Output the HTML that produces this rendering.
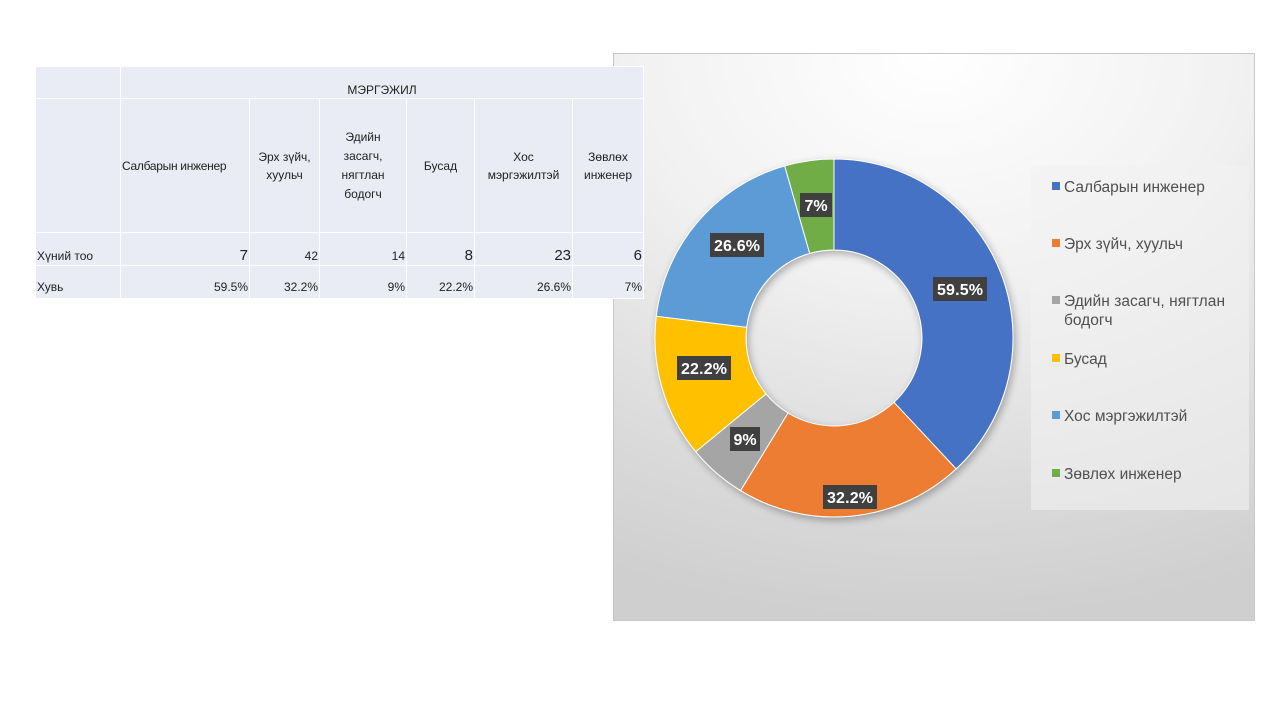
<!DOCTYPE html>
<html><head><meta charset="utf-8"><style>
body{margin:0;width:1280px;height:720px;background:#fff;position:relative;overflow:hidden;font-family:"Liberation Sans","DejaVu Sans",sans-serif;}
#chart{position:absolute;left:613px;top:53px;width:642px;height:568px;border:1px solid #c8c8c8;box-sizing:border-box;
background:radial-gradient(ellipse 120% 100% at 50% 0%,#ffffff 0%,#f1f1f1 40%,#d9d9d9 80%,#cfcfcf 100%);}
table{position:absolute;left:35px;top:66px;width:608px;table-layout:fixed;border-collapse:collapse;font-family:"Liberation Sans",sans-serif;font-size:12px;color:#222;}
td{background:#e9ebf5;border:1px solid #fff;padding:0 1px;overflow:hidden;}
.r{text-align:right}
.c{text-align:center}
.big{font-size:15px}
</style></head><body>
<div id="chart"></div>
<table>
<colgroup><col style="width:85px"><col style="width:129px"><col style="width:70px"><col style="width:87px"><col style="width:68px"><col style="width:98px"><col style="width:71px"></colgroup>
<tr style="height:32px"><td></td><td colspan="6" class="c" style="padding-top:14px">МЭРГЭЖИЛ</td></tr>
<tr style="height:134px"><td></td><td style="white-space:nowrap;letter-spacing:-0.3px">Салбарын инженер</td><td class="c" style="line-height:18px">Эрх зүйч, хуульч</td><td class="c" style="line-height:19px;padding:0 8px">Эдийн засагч, нягтлан бодогч</td><td class="c">Бусад</td><td class="c" style="line-height:18px">Хос мэргэжилтэй</td><td class="c" style="line-height:18px">Зөвлөх инженер</td></tr>
<tr style="height:33px"><td style="padding-top:14px">Хүний тоо</td><td class="r big" style="padding-top:12px">7</td><td class="r" style="padding-top:14px">42</td><td class="r" style="padding-top:14px">14</td><td class="r big" style="padding-top:12px">8</td><td class="r big" style="padding-top:12px">23</td><td class="r big" style="padding-top:12px">6</td></tr>
<tr style="height:33px"><td style="padding-top:10px">Хувь</td><td class="r" style="padding-top:10px">59.5%</td><td class="r" style="padding-top:10px">32.2%</td><td class="r" style="padding-top:10px">9%</td><td class="r" style="padding-top:10px">22.2%</td><td class="r" style="padding-top:10px">26.6%</td><td class="r" style="padding-top:10px">7%</td></tr>
</table>
<svg width="1280" height="720" style="position:absolute;left:0;top:0">
<defs><filter id="sh" x="-20%" y="-20%" width="140%" height="140%"><feGaussianBlur in="SourceAlpha" stdDeviation="4"/><feOffset dx="2" dy="3"/><feComponentTransfer><feFuncA type="linear" slope="0.3"/></feComponentTransfer><feMerge><feMergeNode/><feMergeNode in="SourceGraphic"/></feMerge></filter></defs>
<g filter="url(#sh)" stroke="#fff" stroke-width="1">
<path d="M834,159 A179,179 0 0 1 956.1,468.9 L894,402.3 A88,88 0 0 0 834,250 Z" fill="#4472c4"/>
<path d="M956.1,468.9 A179,179 0 0 1 740.5,490.6 L788,413 A88,88 0 0 0 894,402.3 Z" fill="#ed7d31"/>
<path d="M740.5,490.6 A179,179 0 0 1 695.7,451.7 L766,393.9 A88,88 0 0 0 788,413 Z" fill="#a5a5a5"/>
<path d="M695.7,451.7 A179,179 0 0 1 656.3,316.2 L746.7,327.3 A88,88 0 0 0 766,393.9 Z" fill="#ffc000"/>
<path d="M656.3,316.2 A179,179 0 0 1 784.7,165.9 L809.7,253.4 A88,88 0 0 0 746.7,327.3 Z" fill="#5b9bd5"/>
<path d="M784.7,165.9 A179,179 0 0 1 834,159 L834,250 A88,88 0 0 0 809.7,253.4 Z" fill="#70ad47"/>
</g>
<g font-family="Liberation Sans, sans-serif" font-weight="bold" font-size="16" fill="#fff" text-anchor="middle">
<rect x="933" y="277" width="54" height="24" fill="#404040"/><text x="960" y="295" textLength="46">59.5%</text>
<rect x="823" y="485" width="54" height="24" fill="#404040"/><text x="850" y="503" textLength="46">32.2%</text>
<rect x="730" y="427" width="30" height="24" fill="#404040"/><text x="745" y="445">9%</text>
<rect x="677" y="356" width="54" height="24" fill="#404040"/><text x="704" y="374" textLength="46">22.2%</text>
<rect x="710" y="233" width="54" height="24" fill="#404040"/><text x="737" y="251" textLength="46">26.6%</text>
<rect x="800" y="193" width="32" height="24" fill="#404040"/><text x="816" y="211">7%</text>
</g>
<rect x="1031" y="166" width="218" height="344" fill="#f2f2f2" opacity="0.6"/>
<g font-family="Liberation Sans, sans-serif" font-size="15.5" fill="#505050">
<rect x="1052" y="182" width="8" height="8" fill="#4472c4"/><text x="1064" y="192">Салбарын инженер</text>
<rect x="1052" y="239" width="8" height="8" fill="#ed7d31"/><text x="1064" y="249">Эрх зүйч, хуульч</text>
<rect x="1052" y="296" width="8" height="8" fill="#a5a5a5"/><text x="1064" y="306" textLength="161">Эдийн засагч, нягтлан</text><text x="1064" y="325">бодогч</text>
<rect x="1052" y="354" width="8" height="8" fill="#ffc000"/><text x="1064" y="364">Бусад</text>
<rect x="1052" y="411" width="8" height="8" fill="#5b9bd5"/><text x="1064" y="421">Хос мэргэжилтэй</text>
<rect x="1052" y="469" width="8" height="8" fill="#70ad47"/><text x="1064" y="479">Зөвлөх инженер</text>
</g>
</svg>
</body></html>
